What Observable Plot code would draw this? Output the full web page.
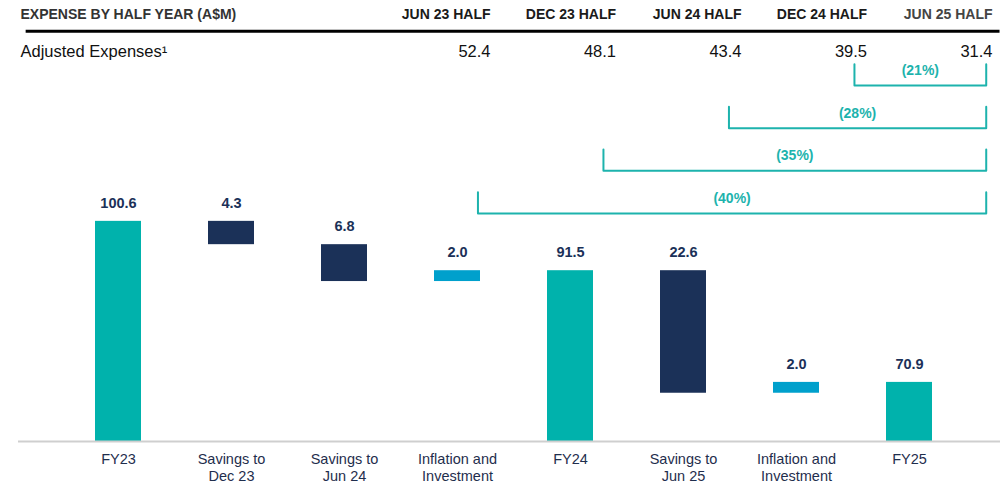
<!DOCTYPE html>
<html>
<head>
<meta charset="utf-8">
<script src="https://cdn.jsdelivr.net/npm/d3@7"></script>
<script src="https://cdn.jsdelivr.net/npm/@observablehq/plot@0.6"></script>
<style>
html, body { margin: 0; padding: 0; background: #fff; }
#wrap { position: relative; width: 1006px; height: 483px; overflow: hidden; }
#wrap svg { position: absolute; left: 0; top: 0; }
</style>
</head>
<body>
<div id="wrap"></div>
<script>
// ---- Header table data ----
const headerTitle = "EXPENSE BY HALF YEAR (A$M)";
const rowLabel = "Adjusted Expenses\u00B9";
const halfYears = ["JUN 23 HALF", "DEC 23 HALF", "JUN 24 HALF", "DEC 24 HALF", "JUN 25 HALF"];
const adjustedExpenses = [52.4, 48.1, 43.4, 39.5, 31.4];

// ---- Reduction brackets (from half year -> JUN 25 HALF) ----
const reductionFrom = ["DEC 24 HALF", "JUN 24 HALF", "DEC 23 HALF", "JUN 23 HALF"];
const reductionPct = ["(21%)", "(28%)", "(35%)", "(40%)"];

// ---- Waterfall data ----
const stepLabels = ["FY23", "Savings to\nDec 23", "Savings to\nJun 24", "Inflation and\nInvestment",
                    "FY24", "Savings to\nJun 25", "Inflation and\nInvestment", "FY25"];
const stepValues = [100.6, -4.3, -6.8, 2.0, 91.5, -22.6, 2.0, 70.9];
const stepKinds = ["total", "saving", "saving", "investment", "total", "saving", "investment", "total"];

const TEAL = "#00b2ac", NAVY = "#1b3158", LIGHTBLUE = "#00a0cc", BRACKET = "#1db3ad";
const STYLE = "background: transparent; font-family: 'Liberation Sans', Arial, sans-serif; overflow: visible;";

// build waterfall rows
let run = 0;
const steps = stepValues.map((v, i) => {
  let y1, y2;
  if (stepKinds[i] === "total") { y1 = 0; y2 = v; run = v; }
  else { y1 = run; y2 = run + v; run = run + v; }
  return { key: i, kind: stepKinds[i], y1, y2, top: Math.max(y1, y2), label: Math.abs(v).toFixed(1) };
});

const wf = Plot.plot({
  width: 1006,
  height: 483,
  marginLeft: 18,
  marginRight: 6,
  marginTop: 197,
  marginBottom: 42,
  style: STYLE,
  x: { type: "band", domain: d3.range(stepLabels.length), range: [58, 968], paddingInner: 0.596, paddingOuter: 0.298, axis: null },
  // truncated value axis (the slide is not drawn to scale from zero)
  y: { domain: [60, 105], clamp: true, axis: null },
  color: { domain: ["total", "saving", "investment"], range: [TEAL, NAVY, LIGHTBLUE] },
  marks: [
    Plot.rectY(steps, { x: "key", y1: "y1", y2: "y2", fill: "kind" }),
    Plot.ruleY([60], { stroke: "#cfcfcf", strokeWidth: 2 }),
    Plot.text(steps, { x: "key", y: "top", text: "label", dy: -18, fill: NAVY, fontWeight: "bold", fontSize: 14.5 }),
    Plot.axisX({ tickSize: 0, tickPadding: 10, tickFormat: i => stepLabels[i], fontSize: 14.5, lineHeight: 1.18, fill: "#1f2e4d", label: null })
  ]
});

// header + brackets
const toIdx = halfYears.length - 1;
const brackets = reductionFrom.map((h, k) => ({ from: halfYears.indexOf(h) - 0.1, to: toIdx - 0.05, level: k, text: reductionPct[k] }));
const bracketPts = brackets.flatMap((b, k) => [
  { id: k, x: b.from, y: b.level - 0.5 },
  { id: k, x: b.from, y: b.level },
  { id: k, x: b.to, y: b.level },
  { id: k, x: b.to, y: b.level - 0.5 }
]);

// header table rows sit above the bracket levels (levels count downward)
const tableRows = [-2, -1];
const tableRule = [-1.27];

const hd = Plot.plot({
  width: 1006,
  height: 220,
  marginLeft: 20,
  marginRight: 6,
  marginTop: 0,
  marginBottom: 0,
  style: STYLE,
  x: { domain: [0, toIdx], range: [490, 992], axis: null },
  y: { domain: [0, reductionFrom.length - 1], range: [85, 213], axis: null },
  marks: [
    Plot.ruleY(tableRule, { x1: -3.7, x2: toIdx + 0.06, stroke: "#000", strokeWidth: 3 }),
    Plot.text([headerTitle], { text: d => d, y: () => tableRows[0], frameAnchor: "left", textAnchor: "start", dy: 14, fontWeight: "bold", fontSize: 14, fill: "#333" }),
    Plot.text(halfYears, { x: (d, i) => i, y: () => tableRows[0], text: d => d, textAnchor: "end", dy: 14, fontWeight: "bold", fontSize: 14, fill: (d, i) => i === toIdx ? "#444" : "#1a1a1a" }),
    Plot.text([rowLabel], { text: d => d, y: () => tableRows[1], frameAnchor: "left", textAnchor: "start", dy: 9, fontSize: 16.5, fill: "#111" }),
    Plot.text(adjustedExpenses, { x: (d, i) => i, y: () => tableRows[1], text: d => d.toFixed(1), textAnchor: "end", dy: 9, fontSize: 16.5, fill: "#111" }),
    Plot.line(bracketPts, { x: "x", y: "y", z: "id", stroke: BRACKET, strokeWidth: 2, strokeLinejoin: "round", strokeLinecap: "round" }),
    Plot.text(brackets, { x: b => (b.from + b.to) / 2, y: "level", text: "text", dy: -15, fill: BRACKET, fontWeight: "bold", fontSize: 14 })
  ]
});

const wrap = document.getElementById("wrap");
wrap.appendChild(wf);
wrap.appendChild(hd);
</script>
</body>
</html>
